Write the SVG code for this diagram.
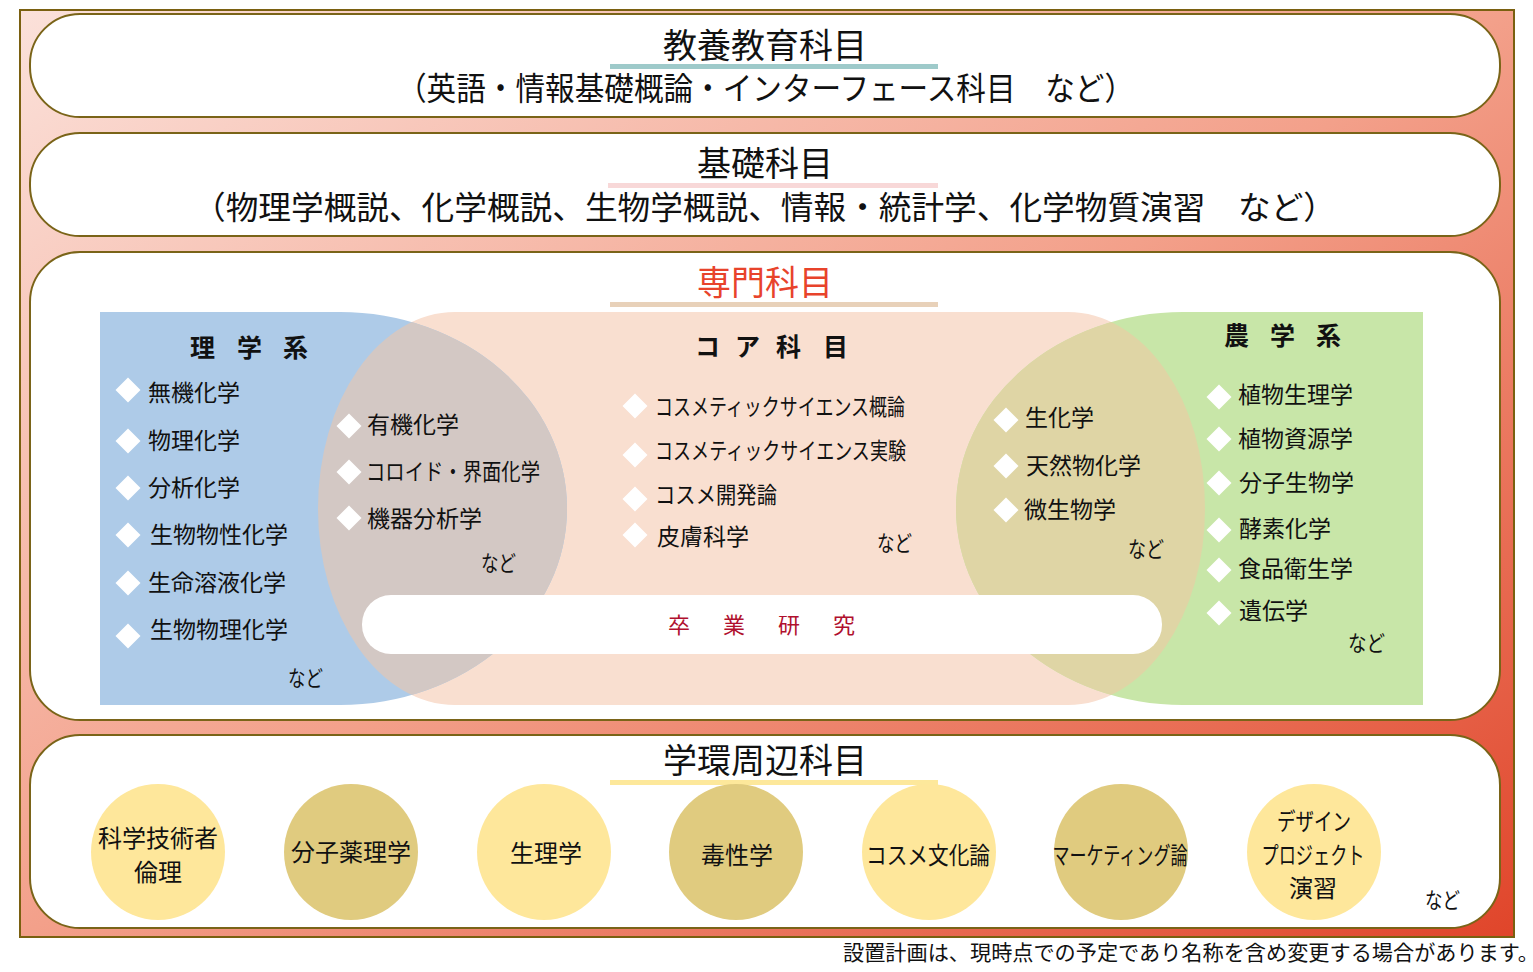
<svg xmlns="http://www.w3.org/2000/svg" width="1533" height="972" viewBox="0 0 1533 972">
<defs>
<linearGradient id="bg" x1="0" y1="0" x2="1" y2="1">
<stop offset="0" stop-color="#fbe1da"/>
<stop offset="0.5" stop-color="#f3a08a"/>
<stop offset="1" stop-color="#e0452a"/>
</linearGradient>
<clipPath id="coreClip"><path d="M455,312 H1068 A137,196 0 0 1 1205,508 A137,196 0 0 1 1068,705 H455 A137,196 0 0 1 318,508 A137,196 0 0 1 455,312 Z"/></clipPath>
<path id="dia" d="M0,-12.5 L12.5,0 L0,12.5 L-12.5,0 Z" fill="#ffffff"/>
</defs>
<style>
text{font-family:"Noto Sans CJK JP","Noto Sans CJK SC",sans-serif;fill:#111;dominant-baseline:central}
.panel{fill:#ffffff;stroke:#7a6418;stroke-width:2}
.big{font-size:34px}
.sub{font-size:32px}
.head{font-size:25px;font-weight:bold}
.item{font-size:23px}
.nado{font-size:22px}
.circ{font-size:24px}
.mid{text-anchor:middle}
</style>
<rect x="20" y="10" width="1494" height="927" fill="url(#bg)" stroke="#7a6010" stroke-width="2"/>

<g id="panel-kyoyo">
<rect class="panel" x="30" y="14" width="1470" height="103" rx="50" ry="50"/>
<rect x="610" y="64" width="328" height="5" fill="#9ecaca"/>
<text class="big mid" x="765" y="43">教養教育科目</text>
<text class="sub" x="397" y="86" textLength="737" lengthAdjust="spacingAndGlyphs">（英語・情報基礎概論・インターフェース科目　など）</text>
</g>

<g id="panel-kiso">
<rect class="panel" x="30" y="133" width="1470" height="103" rx="50" ry="50"/>
<rect x="608" y="183" width="330" height="5" fill="#f8d8d8"/>
<text class="big mid" x="765" y="161">基礎科目</text>
<text class="sub" x="193" y="205" textLength="1143" lengthAdjust="spacingAndGlyphs">（物理学概説、化学概説、生物学概説、情報・統計学、化学物質演習　など）</text>
</g>

<g id="panel-senmon">
<rect class="panel" x="30" y="252" width="1470" height="468" rx="50" ry="50"/>
<rect x="610" y="302" width="328" height="5" fill="#e8d1b9"/>
<text class="big mid" x="765" y="280" style="fill:#e8432b">専門科目</text>
</g>

<g id="venn">
<path id="core" d="M455,312 H1068 A137,196 0 0 1 1205,508 A137,196 0 0 1 1068,705 H455 A137,196 0 0 1 318,508 A137,196 0 0 1 455,312 Z" fill="#f9dfd0"/>
<path id="rigaku" d="M100,312 H340 A227,196 0 0 1 567,508 A227,196 0 0 1 340,705 H100 Z" fill="#aecbe8"/>
<path id="nogaku" d="M1423,312 H1183 A227,196 0 0 0 956,508 A227,196 0 0 0 1183,705 H1423 Z" fill="#c8e6a8"/>
<path d="M100,312 H340 A227,196 0 0 1 567,508 A227,196 0 0 1 340,705 H100 Z" fill="#d3c8c4" clip-path="url(#coreClip)"/>
<path d="M1423,312 H1183 A227,196 0 0 0 956,508 A227,196 0 0 0 1183,705 H1423 Z" fill="#dfd5a5" clip-path="url(#coreClip)"/>
</g>

<g id="sotsugyo">
<rect x="362" y="595" width="800" height="59" rx="29" ry="29" fill="#ffffff"/>
<text x="668 723 778 833" y="623" style="font-size:22px;fill:#b0102e">卒業研究</text>
</g>

<g id="rigaku-list">
<text class="head" x="190 237 283" y="346">理学系</text>
<use href="#dia" x="128" y="390"/><text class="item" x="148" y="391">無機化学</text>
<use href="#dia" x="128" y="441"/><text class="item" x="148" y="439">物理化学</text>
<use href="#dia" x="128" y="488"/><text class="item" x="148" y="486">分析化学</text>
<use href="#dia" x="128" y="535"/><text class="item" x="150" y="533">生物物性化学</text>
<use href="#dia" x="128" y="583"/><text class="item" x="148" y="581">生命溶液化学</text>
<use href="#dia" x="128" y="636"/><text class="item" x="150" y="628">生物物理化学</text>
<text class="nado" x="288" y="676" textLength="35" lengthAdjust="spacingAndGlyphs">など</text>
</g>

<g id="overlap-left-list">
<use href="#dia" x="349" y="426"/><text class="item" x="367" y="423">有機化学</text>
<use href="#dia" x="349" y="472"/><text class="item" x="366" y="470" textLength="174" lengthAdjust="spacingAndGlyphs">コロイド・界面化学</text>
<use href="#dia" x="349" y="518"/><text class="item" x="367" y="517">機器分析学</text>
<text class="nado" x="481" y="561" textLength="35" lengthAdjust="spacingAndGlyphs">など</text>
</g>

<g id="core-list">
<text class="head" x="695 735 776 823" y="345">コア科目</text>
<use href="#dia" x="635" y="406"/><text class="item" x="655" y="405" textLength="250" lengthAdjust="spacingAndGlyphs">コスメティックサイエンス概論</text>
<use href="#dia" x="635" y="455"/><text class="item" x="655" y="449" textLength="251" lengthAdjust="spacingAndGlyphs">コスメティックサイエンス実験</text>
<use href="#dia" x="635" y="499"/><text class="item" x="655" y="493" textLength="122" lengthAdjust="spacingAndGlyphs">コスメ開発論</text>
<use href="#dia" x="635" y="535"/><text class="item" x="657" y="535">皮膚科学</text>
<text class="nado" x="877" y="541" textLength="35" lengthAdjust="spacingAndGlyphs">など</text>
</g>

<g id="overlap-right-list">
<use href="#dia" x="1006" y="420"/><text class="item" x="1025" y="416">生化学</text>
<use href="#dia" x="1006" y="466"/><text class="item" x="1026" y="464">天然物化学</text>
<use href="#dia" x="1006" y="510"/><text class="item" x="1024" y="508">微生物学</text>
<text class="nado" x="1128" y="547" textLength="36" lengthAdjust="spacingAndGlyphs">など</text>
</g>

<g id="nogaku-list">
<text class="head" x="1224 1270 1316" y="334">農学系</text>
<use href="#dia" x="1219" y="397"/><text class="item" x="1238" y="393">植物生理学</text>
<use href="#dia" x="1219" y="439"/><text class="item" x="1238" y="437">植物資源学</text>
<use href="#dia" x="1219" y="483"/><text class="item" x="1239" y="481">分子生物学</text>
<use href="#dia" x="1219" y="530"/><text class="item" x="1239" y="527">酵素化学</text>
<use href="#dia" x="1219" y="570"/><text class="item" x="1238" y="567">食品衛生学</text>
<use href="#dia" x="1219" y="613"/><text class="item" x="1239" y="609">遺伝学</text>
<text class="nado" x="1348" y="641" textLength="37" lengthAdjust="spacingAndGlyphs">など</text>
</g>

<g id="panel-gakkan">
<rect class="panel" x="30" y="735" width="1470" height="193" rx="50" ry="50"/>
<rect x="610" y="780" width="328" height="5" fill="#fde89b"/>
<text class="big mid" x="765" y="758">学環周辺科目</text>
<text class="nado" x="1425" y="898" textLength="35" lengthAdjust="spacingAndGlyphs">など</text>
</g>

<g id="c1"><ellipse cx="158" cy="852" rx="67" ry="68" fill="#fee79b"/><text class="circ mid" x="158" y="836">科学技術者</text><text class="circ mid" x="158" y="870">倫理</text></g>
<g id="c2"><ellipse cx="351" cy="852" rx="67" ry="68" fill="#e0cb7f"/><text class="circ mid" x="351" y="850">分子薬理学</text></g>
<g id="c3"><ellipse cx="544" cy="852" rx="67" ry="68" fill="#fee79b"/><text class="circ mid" x="546" y="851">生理学</text></g>
<g id="c4"><ellipse cx="736" cy="852" rx="67" ry="68" fill="#e0cb7f"/><text class="circ mid" x="737" y="853">毒性学</text></g>
<g id="c5"><ellipse cx="929" cy="852" rx="67" ry="68" fill="#fee79b"/><text class="circ mid" x="928" y="853" textLength="124" lengthAdjust="spacingAndGlyphs">コスメ文化論</text></g>
<g id="c6"><ellipse cx="1121" cy="852" rx="67" ry="68" fill="#e0cb7f"/><text class="circ mid" x="1120" y="853" textLength="135" lengthAdjust="spacingAndGlyphs">マーケティング論</text></g>
<g id="c7"><ellipse cx="1314" cy="852" rx="67" ry="68" fill="#fee79b"/><text class="circ mid" x="1314" y="819" textLength="74" lengthAdjust="spacingAndGlyphs">デザイン</text><text class="circ mid" x="1313" y="853" textLength="103" lengthAdjust="spacingAndGlyphs">プロジェクト</text><text class="circ mid" x="1313" y="886">演習</text></g>

<g id="connectors"></g>

<text x="843" y="951" style="font-size:21px" textLength="696" lengthAdjust="spacingAndGlyphs">設置計画は、現時点での予定であり名称を含め変更する場合があります。</text>
</svg>
